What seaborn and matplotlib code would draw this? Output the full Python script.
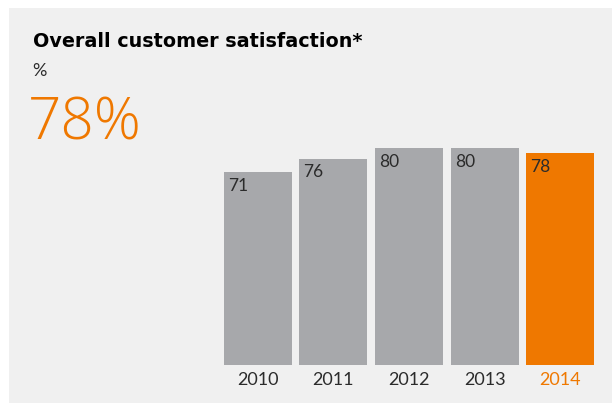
import matplotlib
matplotlib.use("Agg")
import matplotlib.pyplot as plt
import seaborn as sns
import pandas as pd
from matplotlib.patches import Rectangle

years = ["2010", "2011", "2012", "2013", "2014"]
satisfaction = [71, 76, 80, 80, 78]
highlight_year = "2014"
headline = "78%"

GREY = "#a7a8ab"
ORANGE = "#ef7800"
PANEL = "#f0f0f0"
TEXT = "#2b2b2b"

sns.set_theme(style="white")
plt.rcParams["font.family"] = ["Lato", "DejaVu Sans"]

W, H = 613, 403
fig = plt.figure(figsize=(W / 100, H / 100), dpi=100)
fig.patch.set_facecolor("white")

# grey panel behind everything
fig.patches.append(Rectangle((9 / W, 0), (612 - 9) / W, (H - 8) / H,
                             transform=fig.transFigure, facecolor=PANEL,
                             edgecolor="none", zorder=-5))

# axes placed so bars sit between x=220..598 px, baseline at y=365 px
ax = fig.add_axes([220 / W, (H - 365) / H, (598 - 220) / W, (365 - 148) / H])
ax.set_zorder(2)
ax.patch.set_visible(False)

df = pd.DataFrame({"year": years, "value": satisfaction})
palette = {y: (ORANGE if y == highlight_year else GREY) for y in years}
sns.barplot(data=df, x="year", y="value", hue="year", palette=palette,
            width=0.9, saturation=1, legend=False, linewidth=0, ax=ax)

ax.set_ylim(0, 80)
ax.set_xlim(-0.5, len(years) - 0.5)
ax.set_xlabel("")
ax.set_ylabel("")
ax.set_yticks([])
for s in ax.spines.values():
    s.set_visible(False)

ax.tick_params(axis="x", length=0, pad=5, labelsize=13)
for lbl in ax.get_xticklabels():
    lbl.set_color(ORANGE if lbl.get_text() == highlight_year else TEXT)

# value labels in the top-left corner of each bar
for i, v in enumerate(satisfaction):
    ax.annotate(str(v), xy=(i - 0.45, v), xytext=(3, -4),
                textcoords="offset points", ha="left", va="top",
                fontsize=12.5, color=TEXT)

fig.text(33 / W, 1 - 47 / H, "Overall customer satisfaction*",
         fontsize=13.8, fontweight="bold", color="black", va="baseline",
         family=["DejaVu Sans"])
fig.text(32 / W, 1 - 76 / H, "%", fontsize=13, color=TEXT, va="baseline")
fig.text(28 / W, 1 - 140 / H, headline, fontsize=42, color=ORANGE,
         va="baseline", family=["Open Sans", "DejaVu Sans"],
         fontweight=300)

fig.savefig("out.png", dpi=100, facecolor=fig.get_facecolor())
